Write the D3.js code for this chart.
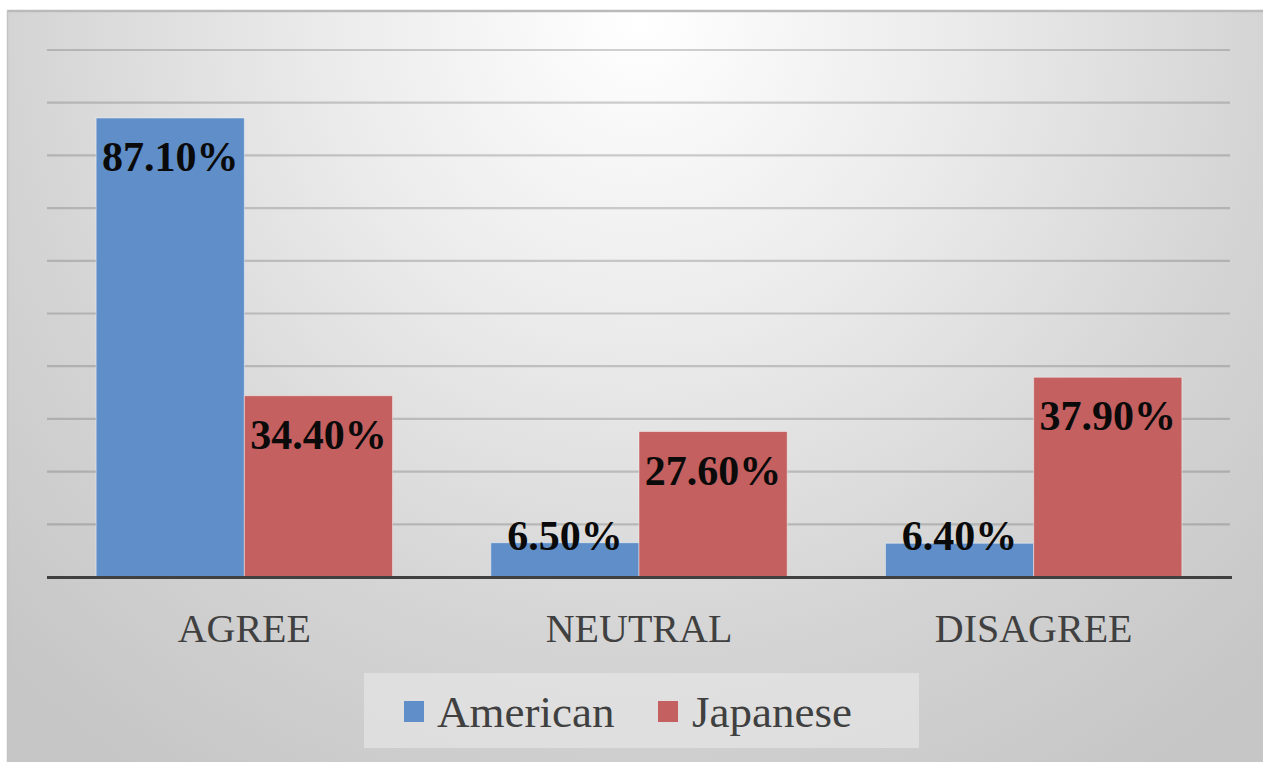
<!DOCTYPE html>
<html>
<head>
<meta charset="utf-8">
<script src="https://cdn.jsdelivr.net/npm/d3@7"></script>
<style>
  html, body { margin: 0; padding: 0; background: #ffffff; }
  svg { display: block; }
</style>
</head>
<body>
<svg id="chart" width="1269" height="762"></svg>
<script>
// Survey responses by group
const categories = ["AGREE", "NEUTRAL", "DISAGREE"];
const seriesNames = ["American", "Japanese"];
const american = [0.871, 0.065, 0.064];
const japanese = [0.344, 0.276, 0.379];
const gridTicks = [0.1, 0.2, 0.3, 0.4, 0.5, 0.6, 0.7, 0.8, 0.9, 1.0];
const seriesColors = ["#5f8ec8", "#c4605f"];

const svg = d3.select("#chart");
const W = 1269, H = 762;
const serif = '"Liberation Serif", "Times New Roman", serif';

// Backdrop: radial gradient, light near top centre, grey toward edges
const defs = svg.append("defs");
const rg = defs.append("radialGradient")
  .attr("id", "bg")
  .attr("gradientUnits", "userSpaceOnUse")
  .attr("cx", 640).attr("cy", 20).attr("r", 900)
  .attr("fx", 640).attr("fy", 20);
rg.append("stop").attr("offset", "0%").attr("stop-color", "#ffffff");
rg.append("stop").attr("offset", "35%").attr("stop-color", "#ebebeb");
rg.append("stop").attr("offset", "70%").attr("stop-color", "#d4d4d4");
rg.append("stop").attr("offset", "100%").attr("stop-color", "#c6c6c6");

svg.append("rect")
  .attr("x", 7).attr("y", 10).attr("width", 1256).attr("height", H - 10)
  .attr("fill", "url(#bg)");
// frame edges
svg.append("line").attr("x1", 7).attr("x2", 1263).attr("y1", 11).attr("y2", 11)
  .attr("stroke", "#bababa").attr("stroke-width", 2.5);
svg.append("line").attr("x1", 7.5).attr("x2", 7.5).attr("y1", 10).attr("y2", H)
  .attr("stroke", "#c4c4c4").attr("stroke-width", 1.5);

const plot = { left: 47, right: 1231, top: 50, bottom: 577 };

const x0 = d3.scaleBand()
  .domain(categories)
  .range([plot.left, plot.right])
  .paddingInner(0.249)
  .paddingOuter(0.1245);
const x1 = d3.scaleBand()
  .domain(seriesNames)
  .range([0, x0.bandwidth()])
  .padding(0);
const y = d3.scaleLinear().domain([0, 1]).range([plot.bottom, plot.top]);

// Gridlines
svg.append("g")
  .selectAll("line")
  .data(gridTicks)
  .join("line")
  .attr("x1", plot.left).attr("x2", plot.right - 1)
  .attr("y1", d => y(d)).attr("y2", d => y(d))
  .attr("stroke", "#5a5a5a").attr("stroke-opacity", 0.28)
  .attr("stroke-width", 2.2);

// Bars
const rows = categories.map((c, i) => ({
  cat: c,
  vals: [
    { name: seriesNames[0], v: american[i], color: seriesColors[0] },
    { name: seriesNames[1], v: japanese[i], color: seriesColors[1] }
  ]
}));

const groups = svg.append("g")
  .selectAll("g")
  .data(rows)
  .join("g")
  .attr("transform", d => `translate(${x0(d.cat)},0)`);

groups.selectAll("rect")
  .data(d => d.vals)
  .join("rect")
  .attr("x", d => x1(d.name))
  .attr("y", d => y(d.v))
  .attr("width", x1.bandwidth())
  .attr("height", d => y(0) - y(d.v))
  .attr("fill", d => d.color)
  .attr("stroke", "rgba(255,255,255,0.45)")
  .attr("stroke-width", 1);

// Value labels inside the bar tops
groups.selectAll("text")
  .data(d => d.vals)
  .join("text")
  .attr("x", d => x1(d.name) + x1.bandwidth() / 2)
  .attr("y", d => Math.min(y(d.v) + 53, y(0) - 27))
  .attr("text-anchor", "middle")
  .style("font-family", serif)
  .style("font-weight", "bold")
  .style("font-size", "42px")
  .attr("fill", "#0a0a0a")
  .text(d => (d.v * 100).toFixed(2) + "%");

// Category axis line
svg.append("line")
  .attr("x1", plot.left).attr("x2", plot.right + 1)
  .attr("y1", y(0) + 0.5).attr("y2", y(0) + 0.5)
  .attr("stroke", "#404040").attr("stroke-width", 3.2);

// Category labels
svg.append("g")
  .selectAll("text")
  .data(categories)
  .join("text")
  .attr("x", d => x0(d) + x0.bandwidth() / 2)
  .attr("y", 642)
  .attr("text-anchor", "middle")
  .style("font-family", serif)
  .style("font-size", "40px")
  .attr("fill", "#404040")
  .text(d => d);

// Legend
const legend = svg.append("g");
legend.append("rect")
  .attr("x", 364).attr("y", 673).attr("width", 555).attr("height", 75)
  .attr("fill", "#e6e6e6").attr("fill-opacity", 0.7);
const legendItems = [
  { name: seriesNames[0], color: seriesColors[0], sx: 404, tx: 437 },
  { name: seriesNames[1], color: seriesColors[1], sx: 658, tx: 692 }
];
legendItems.forEach(it => {
  legend.append("rect")
    .attr("x", it.sx).attr("y", 701).attr("width", 20).attr("height", 21)
    .attr("fill", it.color);
  legend.append("text")
    .attr("x", it.tx).attr("y", 727)
    .style("font-family", serif)
    .style("font-size", "45px")
    .attr("fill", "#404040")
    .text(it.name);
});
</script>
</body>
</html>
